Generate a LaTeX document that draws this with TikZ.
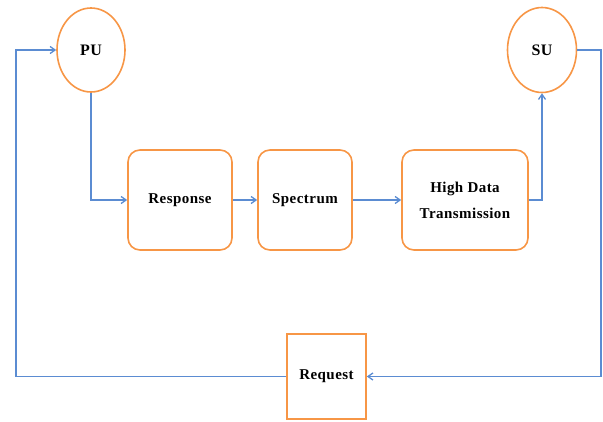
\documentclass[tikz,border=0pt]{standalone}
\usepackage{fontspec}
\setmainfont{Liberation Serif}[LetterSpace=3]
\usetikzlibrary{shapes.geometric,arrows.meta}
\definecolor{boxorange}{RGB}{247,150,70}
\definecolor{lineblue}{RGB}{91,140,210}
\tikzset{
  user/.style={ellipse,draw=boxorange,line width=1.6pt,inner sep=0pt,minimum width=68pt,minimum height=84pt,font=\fontsize{16}{18}\selectfont\bfseries},
  stepbox/.style={rectangle,rounded corners=12pt,draw=boxorange,line width=1.6pt,minimum height=100pt,align=center,font=\fontsize{15}{26}\selectfont\bfseries},
  reqbox/.style={rectangle,draw=boxorange,line width=1.6pt,minimum width=79pt,minimum height=85pt,font=\fontsize{15}{18}\selectfont\bfseries},
  conn/.style={draw=lineblue,line width=1.3pt,-{Straight Barb[length=5pt,width=7pt]}}
}
\begin{document}
\begin{tikzpicture}[x=1pt,y=-1pt]
\useasboundingbox (0,0) rectangle (603,421);
\node[user] (PU) at (91,50) {PU};
\node[user,minimum width=69pt,minimum height=85pt] (SU) at (542,50) {SU};
\node[stepbox,minimum width=104pt] (R) at (180,200) {Response};
\node[stepbox,minimum width=94pt] (S) at (305,200) {Spectrum};
\node[stepbox,minimum width=126pt] (H) at (465,200) {High Data\\Transmission};
\node[reqbox] (Q) at (326.5,376.5) {Request};
\coordinate (lc) at (16,376.5);
\coordinate (rc) at (601,376.5);
\draw[conn] (PU.south) |- (R.west);
\draw[conn] (R.east) -- (S.west);
\draw[conn] (S.east) -- (H.west);
\draw[conn] (H.east) -| (SU.south);
\draw[conn] (SU.east) -| (rc) -- (Q.east);
\draw[conn] (Q.west) -- (lc) |- (PU.west);
\end{tikzpicture}
\end{document}
